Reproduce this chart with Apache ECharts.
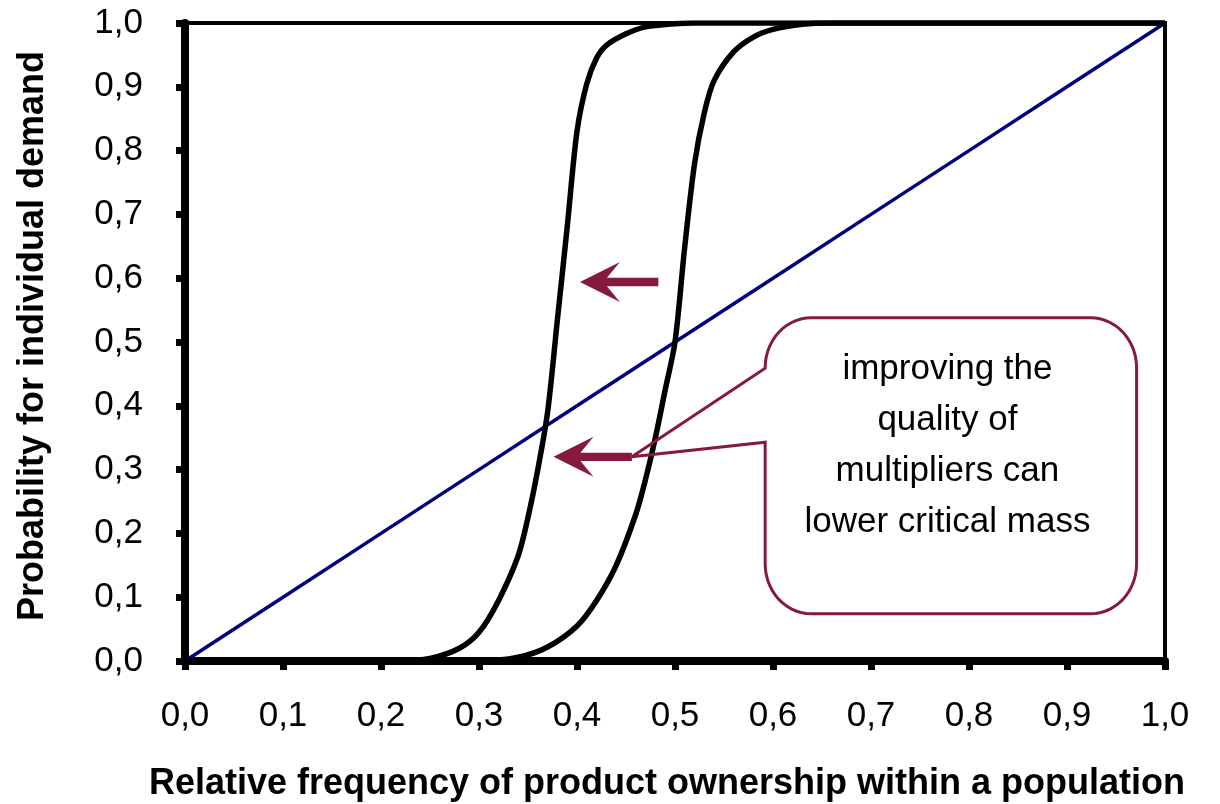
<!DOCTYPE html>
<html>
<head>
<meta charset="utf-8">
<script src="https://cdn.jsdelivr.net/npm/echarts@6/dist/echarts.min.js"></script>
<style>
html,body{margin:0;padding:0;background:#fff;}
#c{width:1220px;height:804px;}
</style>
</head>
<body>
<div id="c"></div>
<script>
// ---- data ----
var diagonalX = [0, 0.1, 0.2, 0.3, 0.4, 0.5, 0.6, 0.7, 0.8, 0.9, 1.0];
var diagonalY = [0, 0.1, 0.2, 0.3, 0.4, 0.5, 0.6, 0.7, 0.8, 0.9, 1.0];

var leftCurveX = [0, 0.22, 0.25, 0.28, 0.30, 0.32, 0.34, 0.35, 0.36, 0.37, 0.38, 0.39, 0.40, 0.41, 0.42, 0.43, 0.45, 0.47, 0.50, 0.52, 1.0];
var leftCurveY = [0, 0, 0.004, 0.02, 0.045, 0.095, 0.165, 0.225, 0.30, 0.39, 0.535, 0.68, 0.83, 0.905, 0.945, 0.965, 0.983, 0.994, 0.999, 1.0, 1.0];

var rightCurveX = [0, 0.30, 0.34, 0.37, 0.40, 0.42, 0.44, 0.46, 0.47, 0.48, 0.49, 0.50, 0.51, 0.52, 0.53, 0.54, 0.56, 0.58, 0.60, 0.63, 0.66, 1.0];
var rightCurveY = [0, 0, 0.006, 0.022, 0.055, 0.095, 0.15, 0.23, 0.285, 0.35, 0.425, 0.50, 0.65, 0.78, 0.86, 0.91, 0.955, 0.978, 0.99, 0.998, 1.0, 1.0];

var xTitle = 'Relative frequency of product ownership within a population';
var yTitle = 'Probability for individual demand';
var calloutLines = ['improving the', 'quality of', 'multipliers can', 'lower critical mass'];

// annotation anchors in data coordinates
var arrow1 = {tail: [0.483, 0.594], tip: [0.403, 0.594]};
var arrow2 = {tail: [0.456, 0.320], tip: [0.376, 0.320]};
var calloutBox = {x0: 0.592, x1: 0.971, y0: 0.074, y1: 0.538, baseTop: 0.459, baseBottom: 0.343};
var calloutTextCenter = [0.778, 0.337];

function zip(xs, ys) { return xs.map(function (x, i) { return [x, ys[i]]; }); }
function fmt(v) { return v.toFixed(1).replace('.', ','); }

var MAROON = '#861A3D';
var FONT = '"Liberation Sans", Arial, sans-serif';
var chart = echarts.init(document.getElementById('c'), null, {renderer: 'canvas'});

var option = {
  animation: false,
  backgroundColor: '#fff',
  grid: {left: 185, right: 55, top: 23, bottom: 143, show: true, borderColor: '#000', borderWidth: 4, backgroundColor: 'transparent'},
  xAxis: {
    type: 'value', min: 0, max: 1, interval: 0.1,
    axisLine: {show: true, onZero: false, lineStyle: {color: '#000', width: 8}},
    axisTick: {show: true, inside: false, length: 9, lineStyle: {color: '#000', width: 7}},
    axisLabel: {show: true, margin: 38, fontSize: 35, color: '#000', fontFamily: FONT, formatter: fmt},
    splitLine: {show: false}
  },
  yAxis: {
    type: 'value', min: 0, max: 1, interval: 0.1,
    axisLine: {show: true, onZero: false, lineStyle: {color: '#000', width: 8}},
    axisTick: {show: true, inside: false, length: 9, lineStyle: {color: '#000', width: 7}},
    axisLabel: {show: true, margin: 42, fontSize: 35, color: '#000', fontFamily: FONT, formatter: fmt},
    splitLine: {show: false}
  },
  series: [
    {type: 'line', data: zip(diagonalX, diagonalY), showSymbol: false, symbol: 'none', lineStyle: {color: '#000080', width: 3.5}, z: 3},
    {type: 'line', data: zip(leftCurveX, leftCurveY), showSymbol: false, symbol: 'none', smooth: 0.3, lineStyle: {color: '#000', width: 5.5}, z: 4},
    {type: 'line', data: zip(rightCurveX, rightCurveY), showSymbol: false, symbol: 'none', smooth: 0.3, lineStyle: {color: '#000', width: 5.5}, z: 4}
  ]
};
chart.setOption(option);

function px(p) { return chart.convertToPixel({gridIndex: 0}, p); }

function arrowPoints(a) {
  var tip = px(a.tip), tail = px(a.tail);
  var x = tip[0], y = tip[1], L = tail[0];
  var hl = 40, hw = 20, notch = 27, sw = 4.2;
  return [[x, y], [x + hl, y - hw], [x + notch, y - sw], [L, y - sw], [L, y + sw], [x + notch, y + sw], [x + hl, y + hw]];
}

function arcPts(cx, cy, rx, ry, a0, a1, out) {
  var n = 14;
  for (var i = 0; i <= n; i++) {
    var a = a0 + (a1 - a0) * i / n;
    out.push([cx + rx * Math.cos(a), cy + ry * Math.sin(a)]);
  }
}

function calloutPoints() {
  var tl = px([calloutBox.x0, calloutBox.y1]);
  var br = px([calloutBox.x1, calloutBox.y0]);
  var bt = px([calloutBox.x0, calloutBox.baseTop]);
  var bb = px([calloutBox.x0, calloutBox.baseBottom]);
  var tip = px(arrow2.tail);
  var L = tl[0], T = tl[1], R = br[0], B = br[1];
  var rx = 46, ry = 50, P = Math.PI;
  var pts = [[tip[0], tip[1]], [L, bt[1]]];
  arcPts(L + rx, T + ry, rx, ry, P, 1.5 * P, pts);
  arcPts(R - rx, T + ry, rx, ry, 1.5 * P, 2 * P, pts);
  arcPts(R - rx, B - ry, rx, ry, 0, 0.5 * P, pts);
  arcPts(L + rx, B - ry, rx, ry, 0.5 * P, P, pts);
  pts.push([L, bb[1]]);
  pts.push([tip[0], tip[1]]);
  return pts;
}

var tc = px(calloutTextCenter);
chart.setOption({
  graphic: [
    {type: 'polygon', shape: {points: arrowPoints(arrow1)}, style: {fill: MAROON}, z: 10},
    {type: 'polygon', shape: {points: arrowPoints(arrow2)}, style: {fill: MAROON}, z: 10},
    {type: 'polyline', shape: {points: calloutPoints()}, style: {fill: null, stroke: MAROON, lineWidth: 3, lineJoin: 'miter'}, z: 9},
    {type: 'text', x: tc[0], y: tc[1], z: 11,
      style: {text: calloutLines.join('\n'), fill: '#000', font: '35px ' + FONT, align: 'center', verticalAlign: 'middle', lineHeight: 51}},
    {type: 'text', x: 667, y: 784, z: 11,
      style: {text: xTitle, fill: '#000', font: 'bold 36px ' + FONT, align: 'center', verticalAlign: 'middle'}},
    {type: 'text', x: 33, y: 336, rotation: Math.PI / 2, z: 11,
      style: {text: yTitle, fill: '#000', font: 'bold 36px ' + FONT, align: 'center', verticalAlign: 'middle'}}
  ]
});
</script>
</body>
</html>
